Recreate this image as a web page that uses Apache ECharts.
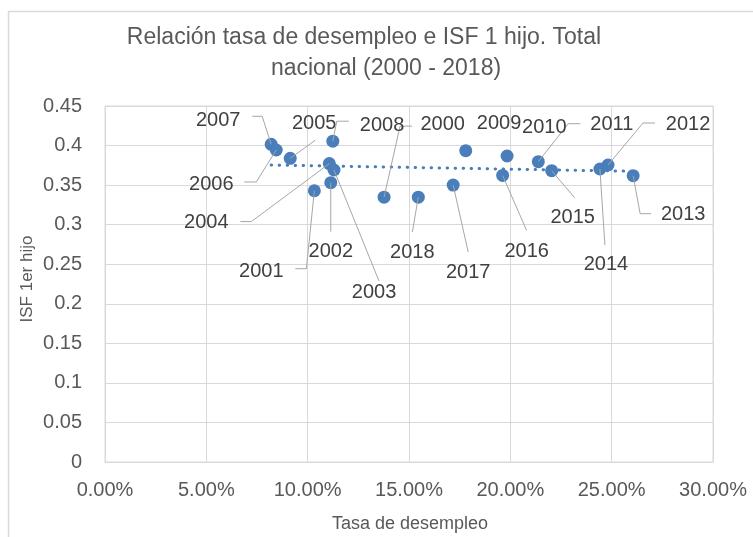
<!DOCTYPE html>
<html>
<head>
<meta charset="utf-8">
<script src="https://cdn.jsdelivr.net/npm/echarts@6/dist/echarts.min.js"></script>
<style>
html,body{margin:0;padding:0;background:#fff;}
#chart{width:753px;height:537px;}
</style>
</head>
<body>
<div id="chart"></div>
<script>
// ---- data ----
const unemploymentRate = [0.0820, 0.0845, 0.0914, 0.1124, 0.1107, 0.1130, 0.1114, 0.1033, 0.1377, 0.1546, 0.1718, 0.1780, 0.1984, 0.1962, 0.2138, 0.2204, 0.2442, 0.2482, 0.2606];
const isfFirstChild    = [0.4016, 0.3944, 0.3839, 0.4055, 0.3772, 0.3691, 0.3531, 0.3429, 0.3348, 0.3348, 0.3501, 0.3935, 0.3868, 0.3622, 0.3796, 0.3682, 0.3704, 0.3754, 0.3619];
const pointLabels      = ['2007','2006','2005','2011','2004','2003','2002','2001','2008','2018','2017','2000','2009','2016','2010','2015','2014','2012','2013'];
const trendX = [0.0820, 0.2606];
const trendY = [0.3754, 0.3675];
const xTicks = [0, 0.05, 0.10, 0.15, 0.20, 0.25, 0.30];
const yTicks = [0, 0.05, 0.10, 0.15, 0.20, 0.25, 0.30, 0.35, 0.40, 0.45];
const titleLines = ['Relación tasa de desempleo e ISF 1 hijo. Total', 'nacional (2000 - 2018)'];
const xTitle = 'Tasa de desempleo';
const yTitle = 'ISF 1er hijo';

// ---- label placement (pixel offsets from each marker) ----
const labelOffsets = [
  [-53,-24],[-65,34],[24,-35],[279,-17],[-123,59],[40,122],[0,69],[-53,81],[-2,-72],[-6,55],
  [15,87],[-23,-26],[-8,-33],[24,76],[6,-34],[21,47],[6,96],[80,-41],[50,39]
];
const leaderPaths = [
  [[-19,-28],[-9,-28],[0,0]],
  [[-32,32],[-20,32],[0,0]],
  [[25,-18],[0,0]],
  [[16,-20],[4,-20],[0,0]],
  [[-89,58],[-78,58],[0,0]],
  [[45,111],[0,0]],
  [[0,49],[0,0]],
  [[-19,78],[-8,78],[0,0]],
  [[28,-71],[16,-71],[0,0]],
  [[-6,35],[0,0]],
  [[15,67],[0,0]],
  null,
  null,
  [[24,55],[0,0]],
  [[42,-38],[30,-38],[0,0]],
  [[23,27],[0,0]],
  [[5,76],[0,0]],
  [[47,-42],[35,-42],[0,0]],
  [[18,38],[7,38],[0,0]]
];

const FONT = '"Liberation Sans", Arial, sans-serif';
const BLUE = '#4A7EBB';
const GRID = '#d9d9d9';

const points = unemploymentRate.map((x, i) => [x, isfFirstChild[i]]);
const trend = trendX.map((x, i) => [x, trendY[i]]);

const chart = echarts.init(document.getElementById('chart'), null, {renderer: 'canvas'});

chart.setOption({
  animation: false,
  backgroundColor: '#ffffff',
  grid: {left: 105, top: 106, right: 40, bottom: 75, show: true, borderColor: GRID, borderWidth: 1, containLabel: false},
  xAxis: {
    type: 'value', min: xTicks[0], max: xTicks[xTicks.length - 1], interval: xTicks[1] - xTicks[0],
    axisLine: {show: true, lineStyle: {color: GRID}},
    axisTick: {show: false},
    splitLine: {show: true, lineStyle: {color: GRID, width: 1}},
    axisLabel: {color: '#595959', fontFamily: FONT, fontSize: 20, margin: 18,
      formatter: v => (v * 100).toFixed(2) + '%'}
  },
  yAxis: {
    type: 'value', min: yTicks[0], max: yTicks[yTicks.length - 1], interval: yTicks[1] - yTicks[0],
    axisLine: {show: false},
    axisTick: {show: false},
    splitLine: {show: true, lineStyle: {color: GRID, width: 1}},
    axisLabel: {color: '#595959', fontFamily: FONT, fontSize: 20, margin: 23,
      formatter: v => String(Math.round(v * 100) / 100)}
  },
  graphic: [
    {type: 'rect', silent: true, shape: {x: 8.5, y: 11.5, width: 800, height: 600},
      style: {fill: 'none', stroke: GRID, lineWidth: 1.5}, z: -10},
    {type: 'text', x: 364, y: 38, style: {text: titleLines[0], font: '23px ' + FONT, fill: '#595959', align: 'center', verticalAlign: 'middle'}},
    {type: 'text', x: 386, y: 69, style: {text: titleLines[1], font: '23px ' + FONT, fill: '#595959', align: 'center', verticalAlign: 'middle'}},
    {type: 'text', x: 410, y: 524, style: {text: xTitle, font: '18px ' + FONT, fill: '#595959', align: 'center', verticalAlign: 'middle'}},
    {type: 'text', x: 27, y: 279, rotation: Math.PI / 2, style: {text: yTitle, font: '17px ' + FONT, fill: '#595959', align: 'center', verticalAlign: 'middle'}}
  ],
  series: [
    {
      type: 'line', data: trend, symbol: 'none', silent: true, z: 2,
      lineStyle: {color: BLUE, width: 3, type: [0.5, 7.5], cap: 'round'}
    },
    {
      type: 'scatter', data: points, symbol: 'circle', symbolSize: 13, z: 3,
      itemStyle: {color: BLUE, opacity: 1}
    },
    {
      type: 'custom', data: points, z: 4, silent: true,
      renderItem: function (params, api) {
        const i = params.dataIndex;
        const p = api.coord([api.value(0), api.value(1)]);
        const children = [];
        const path = leaderPaths[i];
        if (path) {
          children.push({
            type: 'polyline',
            shape: {points: path.map(d => [p[0] + d[0], p[1] + d[1]])},
            style: {stroke: '#a6a6a6', lineWidth: 1, fill: null}
          });
        }
        const o = labelOffsets[i];
        children.push({
          type: 'text',
          style: {text: pointLabels[i], x: p[0] + o[0], y: p[1] + o[1], align: 'center', verticalAlign: 'middle',
            font: '20px ' + FONT, fill: '#404040'}
        });
        return {type: 'group', children: children};
      }
    }
  ]
});
</script>
</body>
</html>
